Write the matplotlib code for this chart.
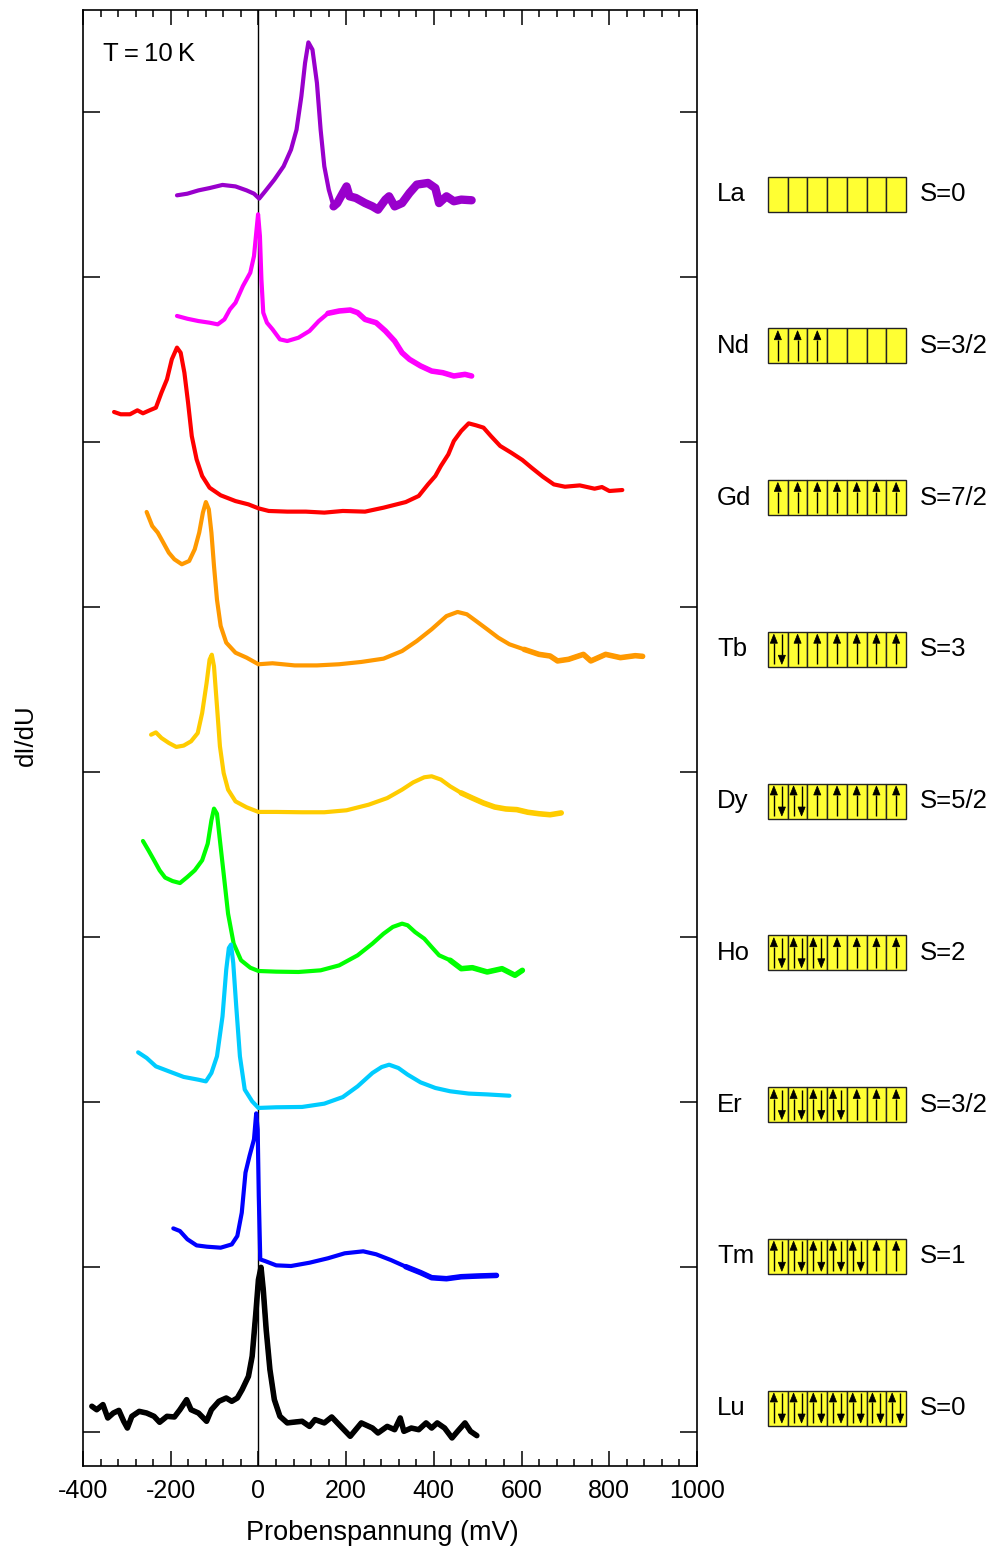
import matplotlib
matplotlib.use('Agg')
import matplotlib.pyplot as plt
from matplotlib.patches import Rectangle, Polygon
from matplotlib.ticker import MultipleLocator

plt.rcParams['font.family'] = ['Liberation Sans', 'DejaVu Sans']
plt.rcParams['axes.unicode_minus'] = False

# ---- tunnelling spectra dI/dU (arb. units, stacked) vs. sample bias (mV) ----
la_v = [-185.7, -162, -136.7, -111.4, -81.9, -52.3, -27, -10.1, 1.7, 15.2, 36.3, 57.4, 74.3, 86.9,
        97.9, 106.3, 113.9, 123.2, 133.4, 141.8, 150.2, 160.4, 171.3, 179.8, 192.4, 200.9, 207.6,
        222, 243.1, 260, 272.6, 289.5, 297.9, 310.6, 327.5, 344.4, 361.2, 386.6, 403.4, 411.9,
        428.8, 445.6, 462.5, 486.1]
la_g = [7.495, 7.505, 7.525, 7.539, 7.558, 7.549, 7.525, 7.505, 7.475, 7.519, 7.590, 7.671, 7.772,
        7.893, 8.095, 8.297, 8.422, 8.378, 8.176, 7.893, 7.671, 7.529, 7.428, 7.448, 7.509, 7.549,
        7.489, 7.479, 7.448, 7.428, 7.408, 7.469, 7.489, 7.428, 7.448, 7.509, 7.560, 7.570, 7.539,
        7.448, 7.489, 7.459, 7.469, 7.465]

nd_v = [-185.7, -162, -136.7, -111.4, -92.8, -77.6, -65, -52.3, -35.4, -18.6, -10.1, -4.2, -0.8,
        3.4, 6.8, 11, 19.4, 32.1, 49, 65.8, 91.2, 116.5, 137.6, 158.7, 184, 209.3, 226.2, 243.1,
        268.4, 289.5, 310.6, 327.5, 344.4, 369.7, 395, 420.4, 445.6, 471, 486.1]
nd_g = [6.764, 6.747, 6.733, 6.723, 6.713, 6.743, 6.804, 6.844, 6.945, 7.026, 7.127, 7.289, 7.380,
        7.248, 6.986, 6.784, 6.723, 6.683, 6.622, 6.612, 6.632, 6.673, 6.733, 6.780, 6.794, 6.800,
        6.784, 6.743, 6.723, 6.673, 6.612, 6.541, 6.501, 6.461, 6.430, 6.420, 6.400, 6.410, 6.400]

gd_v = [-329.2, -314, -292.9, -276, -263.3, -246.4, -233.8, -221.1, -208.5, -197.5, -185.7, -177.3,
        -168.8, -160.4, -152, -141, -128.3, -111.4, -86.1, -52.3, -22.8, 0, 23.6, 65.8, 108, 150.2,
        192.4, 243.1, 285.3, 335.9, 365.5, 386.6, 403.4, 416.1, 433, 445.6, 462.5, 479.4, 496.3,
        513.2, 530.1, 551.2, 576.5, 601.8, 622.9, 648.3, 673.6, 698.9, 732.7, 766.4, 783.3, 800.2,
        829.7]
gd_g = [6.182, 6.168, 6.168, 6.192, 6.174, 6.194, 6.208, 6.299, 6.380, 6.501, 6.572, 6.541, 6.420,
        6.238, 6.036, 5.895, 5.794, 5.723, 5.677, 5.642, 5.622, 5.598, 5.582, 5.578, 5.578, 5.572,
        5.582, 5.578, 5.602, 5.636, 5.673, 5.743, 5.794, 5.855, 5.925, 6.006, 6.067, 6.113, 6.101,
        6.087, 6.036, 5.976, 5.935, 5.891, 5.844, 5.790, 5.743, 5.729, 5.737, 5.717, 5.727, 5.703,
        5.709]

tb_v = [-254.9, -242.2, -229.6, -216.9, -204.3, -191.6, -174.7, -157.9, -145.2, -135, -126.6, -119.8,
        -113.1, -107.2, -101.3, -94.5, -86.1, -73.4, -52.3, -27, 0, 32.1, 82.7, 133.4, 184, 234.6,
        285.3, 327.5, 361.2, 395, 428.8, 454.1, 475.2, 496.3, 521.6, 546.9, 572.3, 606, 639.8,
        665.1, 682, 707.3, 741, 757.9, 791.7, 825.4, 859.2, 876]
tb_g = [5.576, 5.491, 5.451, 5.390, 5.329, 5.289, 5.259, 5.279, 5.350, 5.451, 5.572, 5.636, 5.592,
        5.451, 5.248, 5.044, 4.885, 4.784, 4.723, 4.693, 4.653, 4.659, 4.646, 4.646, 4.653, 4.667,
        4.687, 4.733, 4.794, 4.865, 4.945, 4.970, 4.956, 4.915, 4.865, 4.814, 4.774, 4.743, 4.713,
        4.703, 4.673, 4.683, 4.713, 4.673, 4.713, 4.693, 4.705, 4.701]

dy_v = [-244.8, -233.8, -221.1, -204.3, -187.4, -170.5, -153.6, -138.4, -128.3, -118.2, -111.4,
        -106.3, -101.3, -94.5, -87.8, -79.3, -69.2, -52.3, -27, 0, 40.5, 99.6, 150.2, 200.9, 251.5,
        293.7, 327.5, 352.8, 378.1, 395, 416.1, 437.2, 462.5, 487.8, 513.2, 538.5, 563.8, 589.1,
        614.4, 639.8, 665.1, 690.4]
dy_g = [4.226, 4.240, 4.206, 4.176, 4.152, 4.160, 4.186, 4.236, 4.358, 4.539, 4.681, 4.711, 4.640,
        4.398, 4.156, 3.994, 3.893, 3.822, 3.786, 3.758, 3.758, 3.756, 3.756, 3.768, 3.802, 3.842,
        3.893, 3.937, 3.968, 3.974, 3.954, 3.913, 3.873, 3.842, 3.812, 3.788, 3.776, 3.772, 3.756,
        3.747, 3.741, 3.752]

ho_v = [-263.3, -250.7, -238, -225.3, -212.7, -195.8, -178.9, -162, -145.2, -128.3, -115.6, -107.2,
        -101.3, -94.5, -87.8, -79.3, -69.2, -56.5, -39.7, -18.6, 0, 40.5, 91.2, 141.8, 184, 226.2,
        260, 285.3, 306.4, 327.5, 340.2, 357.1, 378.1, 395, 412, 437.2, 462.5, 487.8, 521.6, 555.4,
        585, 601.8]
ho_g = [3.582, 3.525, 3.465, 3.404, 3.360, 3.339, 3.327, 3.364, 3.404, 3.465, 3.566, 3.707, 3.778,
        3.747, 3.586, 3.384, 3.141, 2.960, 2.859, 2.814, 2.794, 2.790, 2.788, 2.798, 2.828, 2.889,
        2.960, 3.020, 3.061, 3.081, 3.071, 3.030, 2.990, 2.939, 2.889, 2.859, 2.808, 2.814, 2.788,
        2.808, 2.768, 2.798]

er_v = [-274.3, -254.9, -233.8, -204.3, -170.5, -136.7, -119.8, -107.2, -94.5, -81.9, -73.4, -67.5,
        -62.5, -57.4, -50.6, -42.2, -31.2, -14.3, 0, 40.5, 99.6, 150.2, 192.4, 226.2, 260, 281.1,
        298, 319.1, 340.2, 369.7, 403.4, 437.2, 479.4, 521.6, 572.3]
er_g = [2.301, 2.267, 2.216, 2.186, 2.152, 2.135, 2.125, 2.176, 2.277, 2.519, 2.802, 2.933, 2.954,
        2.842, 2.580, 2.277, 2.075, 2.004, 1.964, 1.968, 1.970, 1.990, 2.030, 2.095, 2.176, 2.212,
        2.226, 2.206, 2.166, 2.119, 2.085, 2.065, 2.051, 2.046, 2.038]

tm_v = [-194.1, -179, -162, -141, -117.3, -86.1, -60.8, -48.1, -38, -29.5, -20.3, -10.1, -5.1, -1.7,
        0.8, 4.2, 15.2, 40.5, 74.3, 116.5, 158.7, 196.7, 238.9, 268.4, 302.2, 335.9, 369.7, 395,
        428.8, 462.5, 496.3, 542.7]
tm_g = [1.234, 1.218, 1.168, 1.131, 1.123, 1.117, 1.137, 1.188, 1.329, 1.572, 1.673, 1.774, 1.931,
        1.834, 1.430, 1.046, 1.036, 1.010, 1.006, 1.026, 1.053, 1.083, 1.095, 1.077, 1.042, 1.002,
        0.966, 0.935, 0.929, 0.941, 0.945, 0.949]

lu_v = [-379.8, -368.8, -354.5, -343.5, -330.8, -318.2, -307.2, -298.8, -288.6, -271.8, -254.9, -238,
        -225.3, -208.5, -191.6, -179, -163.7, -153.6, -136.7, -118.2, -107.2, -90.2, -73.4, -60.8,
        -48.1, -37.1, -22.8, -14.3, -5.9, 0, 5.9, 11, 17.7, 26.2, 36.3, 49, 65.8, 78.5, 99.6, 116.5,
        129.1, 150.2, 167.1, 184, 209.3, 234.6, 260, 272.6, 293.7, 310.6, 323.3, 331.7, 348.6,
        365.5, 382.3, 395, 407.7, 424.5, 441.4, 454.1, 471, 483.6, 498]
lu_g = [0.156, 0.135, 0.166, 0.085, 0.115, 0.131, 0.065, 0.024, 0.095, 0.125, 0.115, 0.095, 0.059,
        0.095, 0.091, 0.135, 0.196, 0.135, 0.115, 0.065, 0.135, 0.186, 0.206, 0.186, 0.206, 0.257,
        0.337, 0.459, 0.721, 0.923, 0.998, 0.863, 0.620, 0.378, 0.196, 0.095, 0.055, 0.059, 0.065,
        0.034, 0.075, 0.055, 0.091, 0.044, -0.026, 0.055, 0.024, -0.006, 0.034, 0.014, 0.085, 0.004,
        0.024, 0.014, 0.055, 0.024, 0.055, 0.024, -0.036, 0.004, 0.055, 0.004, -0.022]

# ---- element info for the 4f-shell diagrams ----
elements = ['La', 'Nd', 'Gd', 'Tb', 'Dy', 'Ho', 'Er', 'Tm', 'Lu']
f_electrons = [0, 3, 7, 8, 9, 10, 11, 12, 14]
spins = ['S=0', 'S=3/2', 'S=7/2', 'S=3', 'S=5/2', 'S=2', 'S=3/2', 'S=1', 'S=0']
colors = ['#9900CC', '#FF00FF', '#FF0000', '#FF9900', '#FFCC00', '#00FF00', '#00CCFF', '#0000FF',
          '#000000']
# noisy spectra are drawn as a broader trace above this bias (mV)
noise_from = [165, 150, None, 600, 450, 420, None, 330, -400]

spectra = [(la_v, la_g), (nd_v, nd_g), (gd_v, gd_g), (tb_v, tb_g), (dy_v, dy_g), (ho_v, ho_g),
           (er_v, er_g), (tm_v, tm_g), (lu_v, lu_g)]

W, H = 989, 1549
fig = plt.figure(figsize=(W / 100, H / 100), dpi=100)
ax = fig.add_axes([83 / W, 1 - 1466 / H, (697 - 83) / W, (1466 - 10) / H])

ax.axvline(0, color='black', lw=1.0, zorder=1)
for (v, g), c, nf in zip(spectra, colors, noise_from):
    ax.plot(v, g, color=c, lw=3.0, solid_joinstyle='round', solid_capstyle='round', zorder=2)
    if nf is not None:
        idx = [i for i, x in enumerate(v) if x >= nf]
        width = 6.0 if c == '#9900CC' else 4.0
        ax.plot([v[i] for i in idx], [g[i] for i in idx], color=c, lw=width,
                solid_joinstyle='round', solid_capstyle='round', zorder=2)

ax.set_xlim(-400, 1000)
ax.set_ylim(-34 / 165, 8 + 102 / 165)
ax.xaxis.set_major_locator(MultipleLocator(200))
ax.xaxis.set_minor_locator(MultipleLocator(40))
ax.set_yticks(range(9))
ax.tick_params(axis='x', which='both', direction='in', top=True, bottom=True, labelsize=18, pad=9)
ax.tick_params(axis='x', which='major', length=11, width=1.1)
ax.tick_params(axis='x', which='minor', length=5, width=1.1)
ax.tick_params(axis='y', which='major', direction='in', left=True, right=True, labelleft=False,
               length=12, width=1.1)
for s in ax.spines.values():
    s.set_linewidth(1.2)

ax.text(-354, 8.35, 'T\u2009=\u200910\u2009K', fontsize=18.5, ha='left', va='center')

fig.text(382 / W, 1 - 1533 / H, 'Probenspannung (mV)', fontsize=19.5, ha='center', va='center')
fig.text(26 / W, 1 - 735 / H, 'dI/dU', fontsize=18.5, ha='center', va='center', rotation=90)

# ---- 4f-shell box diagrams (pixel-based overlay) ----
ov = fig.add_axes([0, 0, 1, 1])
ov.set_xlim(0, W)
ov.set_ylim(H, 0)
ov.axis('off')
ov.patch.set_visible(False)

box_x0, box_w, box_h, n_cells = 768, 138, 35, 7
cell_w = box_w / n_cells
row_y0, row_step = 194, 151.75


def draw_arrow(x, yc, up):
    half = box_h / 2 - 2.5
    head_len, head_hw = 9, 3.6
    if up:
        tip, base, tail = yc - half, yc - half + head_len, yc + half
    else:
        tip, base, tail = yc + half, yc + half - head_len, yc - half
    ov.plot([x, x], [tail, base], color='black', lw=1.0, solid_capstyle='butt')
    ov.add_patch(Polygon([[x - head_hw, base], [x + head_hw, base], [x, tip]], closed=True,
                         facecolor='black', edgecolor='black', lw=0.5))


for i, (el, nf, sp) in enumerate(zip(elements, f_electrons, spins)):
    yc = row_y0 + i * row_step
    ov.text(717, yc, el, fontsize=18.5, ha='left', va='center')
    ov.text(920, yc, sp, fontsize=18.5, ha='left', va='center')
    n_up = min(nf, n_cells)
    n_down = max(nf - n_cells, 0)
    for k in range(n_cells):
        x0 = box_x0 + k * cell_w
        ov.add_patch(Rectangle((x0, yc - box_h / 2), cell_w, box_h, facecolor='#FFFF33',
                               edgecolor='#222222', lw=1.0))
        cx = x0 + cell_w / 2
        if k < n_down:
            draw_arrow(cx - 4, yc, True)
            draw_arrow(cx + 4, yc, False)
        elif k < n_up:
            draw_arrow(cx, yc, True)

fig.savefig('out.png', dpi=100)
